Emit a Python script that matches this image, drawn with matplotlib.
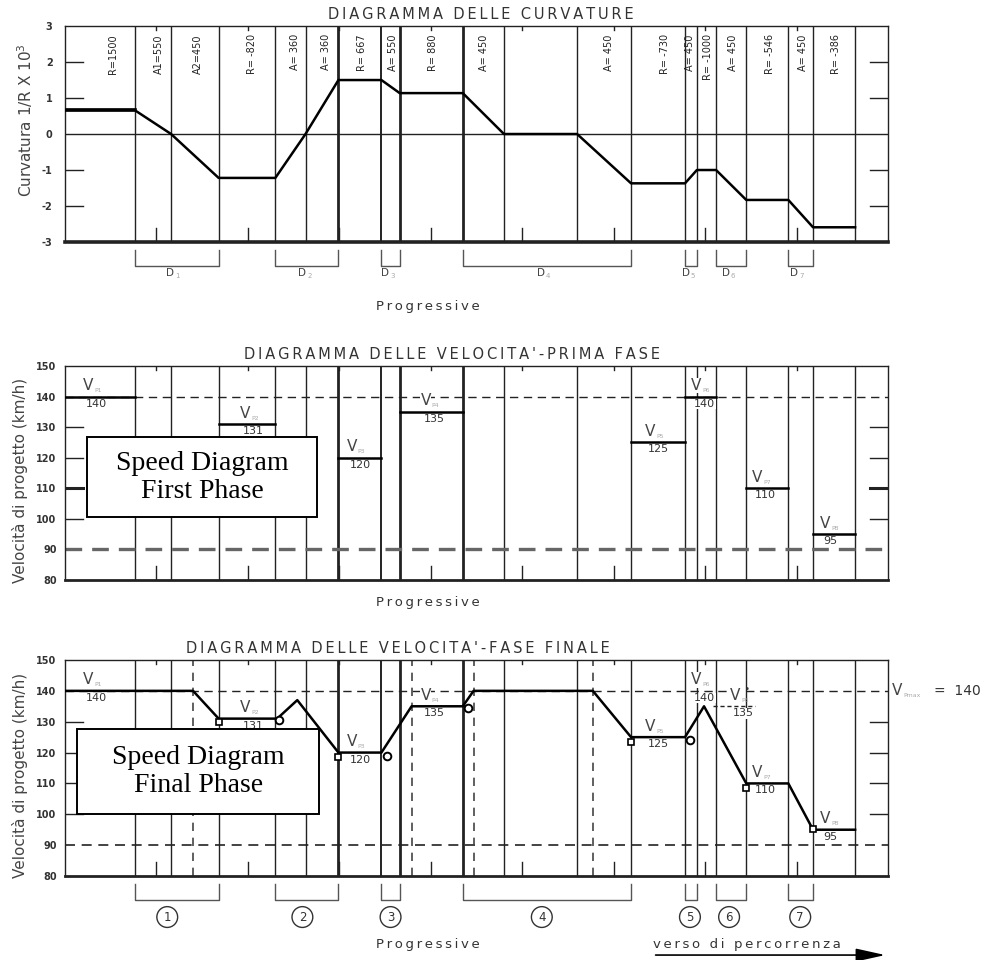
import numpy as np
import matplotlib.pyplot as plt
from matplotlib.transforms import blended_transform_factory
from matplotlib.patches import Rectangle

# progressive stations (m) where the alignment elements change
stations = [0, 380, 580, 840, 1150, 1315, 1495, 1730, 1830, 2175, 2400,
            2800, 3095, 3390, 3455, 3560, 3725, 3955, 4090, 4320]
# radius at each station (inf = straight)
radius = [1500, 1500, np.inf, -820, -820, np.inf, 667, 667, 880, 880, np.inf,
          np.inf, -730, -730, -1000, -1000, -546, -546, -386, -386]
thick_stations = [1495, 1830, 2175]
km_marks = [500, 1000, 1500, 2000, 2500, 3000, 3500, 4000]
x_end = 4500

elem_labels = ["R=1500", "A1=550", "A2=450", "R= -820", "A= 360", "A= 360",
               "R= 667", "A= 550", "R= 880", "A= 450", "A= 450", "R= -730",
               "A= 450", "R= -1000", "A= 450", "R= -546", "A= 450", "R= -386"]
elem_label_x = [263, 515, 728, 1024, 1260, 1429, 1626, 1796, 2010, 2289,
                2973, 3280, 3420, 3515, 3652, 3855, 4036, 4217]

# deceleration stretches D1..D7
d_names = ["1", "2", "3", "4", "5", "6", "7"]
d_start = [380, 1150, 1730, 2175, 3390, 3560, 3955]
d_end = [840, 1495, 1830, 3095, 3455, 3725, 4090]
d_label_x = [575, 1298, 1752, 2601, 3395, 3614, 3987]
circ_label_x = [559, 1298, 1780, 2607, 3417, 3631, 4020]

# design speeds, first phase
vp_names = ["P1", "P2", "P3", "P4", "P5", "P6", "P7", "P8"]
vp_values = [140, 131, 120, 135, 125, 140, 110, 95]
vp_start = [0, 840, 1495, 1830, 3095, 3390, 3725, 4090]
vp_end = [380, 1150, 1730, 2175, 3390, 3560, 3955, 4320]
vp_label_x = [99, 958, 1539, 1944, 3171, 3423, 3756, 4129]

# final speed profile
prof_x = [0, 700, 840, 1160, 1270, 1495, 1730, 1895, 2175, 2234, 2886,
          3095, 3390, 3494, 3725, 3955, 4090, 4320]
prof_v = [140, 140, 131, 131, 137, 120, 120, 135, 135, 140, 140,
          125, 125, 135, 110, 110, 95, 95]
final_dashed = [700, 1895, 2234, 2886]
sq_x = [840, 1495, 3095, 3725, 4090]
sq_v = [130, 118.5, 123.5, 108.5, 95.3]
circ_x = [1172, 1763, 2201, 3417]
circ_v = [130.5, 118.9, 134.4, 124]
v6_star = 135
v6_star_x = [3545, 3770]
vp_max = 140

LINE = "#222222"
TXT = "#333333"


def spaced(s):
    return "\u2009".join(s)


def frame(ax, ylim, bottom_lw):
    ax.set_xlim(0, x_end)
    ax.set_ylim(*ylim)
    ax.set_xticks([])
    for sp in ax.spines.values():
        sp.set_color(LINE)
        sp.set_linewidth(1.0)
    ax.spines["bottom"].set_linewidth(bottom_lw)
    ax.tick_params(axis="y", length=0, labelsize=7, labelcolor=TXT, pad=6)
    for lab in ax.get_yticklabels():
        lab.set_fontweight("bold")
    tr = ax.get_xaxis_transform()
    for k in km_marks:
        ax.plot([k, k], [0, 0.065], color=LINE, lw=1, transform=tr, zorder=1)
        ax.plot([k, k], [1, 0.982], color=LINE, lw=1, transform=tr, zorder=1)
    for s in stations[1:]:
        lw = 2.0 if s in thick_stations else (1.4 if s == 1730 else 1.0)
        ax.axvline(s, color=LINE, lw=lw, zorder=1)


def side_ticks(ax, values, thick=()):
    tr = ax.get_yaxis_transform()
    for v in values:
        lw = 2.2 if v in thick else 1.0
        ax.plot([0, 0.022], [v, v], color=LINE, lw=lw, transform=tr, zorder=1)
        ax.plot([0.978, 1], [v, v], color=LINE, lw=lw, transform=tr, zorder=1)


def title(ax, text, x):
    tr = blended_transform_factory(ax.transData, ax.transAxes)
    ax.text(x, 1.055, spaced(text), transform=tr, ha="center", va="center",
            fontsize=10.5, color=TXT)


def progressive(ax, y):
    tr = blended_transform_factory(ax.transData, ax.transAxes)
    ax.text(1982, y, spaced("Progressive"), transform=tr, ha="center",
            va="center", fontsize=9.5, color=TXT)


def brackets(ax):
    tr = blended_transform_factory(ax.transData, ax.transAxes)
    for a, b in zip(d_start, d_end):
        ax.plot([a, a, b, b], [-0.037, -0.112, -0.112, -0.037], color="#555555",
                lw=1, transform=tr, clip_on=False)


def v_label(ax, x, v, sub, num, star=False):
    bb = dict(facecolor="white", edgecolor="none", pad=0.2)
    ax.annotate("V", (x, v), xytext=(0, 11), textcoords="offset pixels",
                ha="left", va="center", fontsize=11, color="#444444", bbox=bb,
                zorder=3)
    ax.annotate(sub, (x, v), xytext=(11, 6), textcoords="offset pixels",
                ha="left", va="center", fontsize=4.5, color="#aaaaaa", zorder=3)
    if star:
        ax.annotate("\u2022", (x, v), xytext=(17, 17), textcoords="offset pixels",
                    ha="center", va="center", fontsize=6, color="#333333")
    ax.annotate(num, (x, v), xytext=(3, -7), textcoords="offset pixels",
                ha="left", va="center", fontsize=8, color=TXT, bbox=bb, zorder=3)


def note_box(ax, x0, y0, x1, y1, text):
    ax.add_patch(Rectangle((x0, y0), x1 - x0, y1 - y0, transform=ax.transAxes,
                           facecolor="white", edgecolor="black", lw=1.4,
                           zorder=6))
    ax.text((x0 + x1) / 2, (y0 + y1) / 2, text, transform=ax.transAxes,
            ha="center", va="center", fontsize=20, family="Liberation Serif",
            linespacing=1.15, zorder=7)


fig = plt.figure(figsize=(9.88, 9.6), dpi=100)
W = 0.833
ax1 = fig.add_axes([0.0658, 0.7479, W, 0.225])
ax2 = fig.add_axes([0.0658, 0.3958, W, 0.2229])
ax3 = fig.add_axes([0.0658, 0.0875, W, 0.225])

# --- curvature diagram ---
ax1.set_yticks([3, 2, 1, 0, -1, -2, -3])
ax1.set_yticklabels(["3", "2", "1", "0", "-1", "-2", "-3"])
frame(ax1, (-3, 3), 2.6)
ax1.tick_params(axis="y", pad=9)
for lab in ax1.get_yticklabels():
    lab.set_fontweight("bold")
side_ticks(ax1, [2, 1, -1, -2])
ax1.axhline(0, color=LINE, lw=1, zorder=1)
curvature = 1000.0 / np.array(radius, dtype=float)
ax1.plot(stations, curvature, color="black", lw=1.8, zorder=5)
ax1.plot(stations[:2], curvature[:2], color="black", lw=2.6, zorder=5)
tr1 = blended_transform_factory(ax1.transData, ax1.transAxes)
for lab, x in zip(elem_labels, elem_label_x):
    ax1.text(x, 0.962, lab, transform=tr1, rotation=90, ha="center", va="top",
             fontsize=7, color="#222222")
brackets(ax1)
for n, x in zip(d_names, d_label_x):
    ax1.text(x, -0.145, "D", transform=tr1, ha="center", va="center",
             fontsize=7.5, color="#444444")
    ax1.annotate(n, (x, -0.145), xycoords=tr1, xytext=(7, -3),
                 textcoords="offset pixels", ha="center", va="center",
                 fontsize=5, color="#aaaaaa")
title(ax1, "DIAGRAMMA DELLE CURVATURE", 2273)
progressive(ax1, -0.30)
fig.text(25 / 988, 1 - 120 / 960, "Curvatura 1/R X 10$^3$", rotation=90,
         ha="center", va="center", fontsize=11, color="#444444")

# --- speed diagram, first phase ---
speed_ticks = [150, 140, 130, 120, 110, 100, 90, 80]
ax2.set_yticks(speed_ticks)
frame(ax2, (80, 150), 2.0)
side_ticks(ax2, [130, 120, 110, 100], thick=(110,))
ax2.axhline(140, color=LINE, lw=1, ls=(0, (6, 4)), zorder=1)
ax2.axhline(90, color="#666666", lw=2.4, ls=(0, (5, 3)), zorder=1)
for a, b, v in zip(vp_start, vp_end, vp_values):
    ax2.plot([a, b], [v, v], color="black", lw=1.8, zorder=5)
for x, v, n in zip(vp_label_x, vp_values, vp_names):
    v_label(ax2, x, v, n, str(v))
title(ax2, "DIAGRAMMA DELLE VELOCITA'-PRIMA FASE", 2114)
progressive(ax2, -0.107)
note_box(ax2, 0.0267, 0.294, 0.306, 0.668, "Speed Diagram\nFirst Phase")
fig.text(20 / 988, 1 - 480 / 960, "Velocità di progetto (km/h)", rotation=90,
         ha="center", va="center", fontsize=11, color="#444444")

# --- speed diagram, final phase ---
ax3.set_yticks(speed_ticks)
frame(ax3, (80, 150), 2.0)
side_ticks(ax3, [130, 120, 110, 100])
ax3.axhline(140, color=LINE, lw=1, ls=(0, (6, 4)), zorder=1)
ax3.axhline(90, color=LINE, lw=1.2, ls=(0, (6, 4)), zorder=1)
for s in final_dashed:
    ax3.axvline(s, color="#444444", lw=1.2, ls=(0, (5, 4)), zorder=1)
ax3.plot(prof_x, prof_v, color="black", lw=1.8, zorder=5)
ax3.plot(sq_x, sq_v, ls="none", marker="s", ms=5, mfc="white", mec="black",
         mew=1.2, zorder=6)
ax3.plot(circ_x, circ_v, ls="none", marker="o", ms=5.5, mfc="white",
         mec="black", mew=1.4, zorder=6)
ax3.plot(v6_star_x, [v6_star, v6_star], color=LINE, lw=1, ls=(0, (3, 2)),
         zorder=2)
for x, v, n in zip(vp_label_x, vp_values, vp_names):
    v_label(ax3, x, v, n, str(v))
v_label(ax3, 3636, v6_star, "P6", str(v6_star), star=True)
ax3.annotate("V", (x_end, vp_max), xytext=(4, 0), textcoords="offset pixels",
             ha="left", va="center", fontsize=11, color="#444444",
             annotation_clip=False)
ax3.annotate("Pmax", (x_end, vp_max), xytext=(15, -5),
             textcoords="offset pixels", ha="left", va="center", fontsize=4.5,
             color="#aaaaaa", annotation_clip=False)
ax3.annotate("=  " + str(vp_max), (x_end, vp_max), xytext=(46, 0),
             textcoords="offset pixels", ha="left", va="center", fontsize=10,
             color="#333333", annotation_clip=False)
brackets(ax3)
tr3 = blended_transform_factory(ax3.transData, ax3.transAxes)
for n, x in zip(d_names, circ_label_x):
    ax3.text(x, -0.19, n, transform=tr3, ha="center", va="center",
             fontsize=8.5, color="#333333",
             bbox=dict(boxstyle="circle,pad=0.33", facecolor="white",
                       edgecolor="#333333", lw=1))
title(ax3, "DIAGRAMMA DELLE VELOCITA'-FASE FINALE", 1818)
progressive(ax3, -0.315)
ax3.text(3214, -0.315, spaced("verso di percorrenza"), transform=tr3,
         ha="left", va="center", fontsize=9.5, color=TXT)
ax3.annotate("", xy=(x_end, -0.366), xytext=(3214, -0.366), xycoords=tr3,
             textcoords=tr3, annotation_clip=False,
             arrowprops=dict(arrowstyle="-|>,head_length=1.8,head_width=0.4",
                             color="black", lw=1.2))
note_box(ax3, 0.0146, 0.287, 0.309, 0.681, "Speed Diagram\nFinal Phase")
fig.text(20 / 988, 1 - 775 / 960, "Velocità di progetto (km/h)", rotation=90,
         ha="center", va="center", fontsize=11, color="#444444")

fig.savefig("out.png", dpi=100, facecolor="white")
